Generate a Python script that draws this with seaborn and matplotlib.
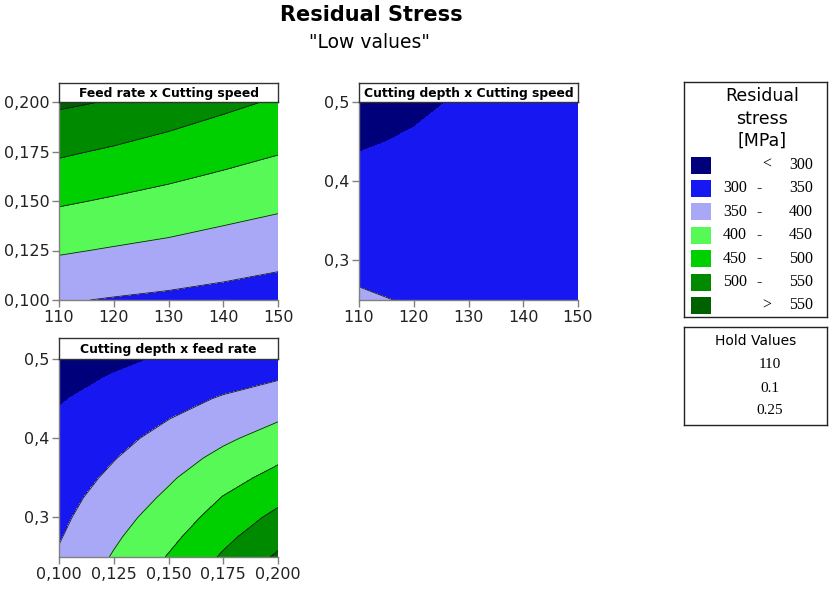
import numpy as np
import seaborn as sns
from matplotlib import pyplot as plt
from matplotlib.patches import Rectangle
from matplotlib.ticker import FuncFormatter

sns.set_style('ticks')
plt.rcParams['font.family'] = ['DejaVu Sans']
plt.rcParams['text.color'] = 'black'

# axis grids
speed = [110, 120, 130, 140, 150]
feed = [0.100, 0.125, 0.150, 0.175, 0.200]
depth = [0.25, 0.30, 0.35, 0.40, 0.45, 0.50]
depth_fine = [0.250, 0.275, 0.300, 0.325, 0.350, 0.375,
              0.400, 0.425, 0.450, 0.475, 0.500]

# residual stress [MPa], rows = y values, columns = x values
stress_feed_speed = [[354, 347, 341, 334, 326],
                     [405, 396, 388, 378, 368],
                     [456, 445, 434, 422, 411],
                     [507, 494, 481, 467, 453],
                     [558, 547, 528, 511, 495]]

stress_depth_speed = [[355, 347, 343, 341, 340],
                      [340, 336, 335, 335, 335],
                      [325, 325, 328, 329, 330],
                      [311, 315, 320, 323, 325],
                      [296, 304, 313, 316, 319],
                      [281, 293, 305, 310, 314]]

stress_depth_feed = [[355, 404, 453, 506, 557],
                     [347, 393, 438, 488, 535],
                     [340, 382, 423, 470, 512],
                     [333, 371, 408, 452, 488],
                     [326, 359, 394, 432, 465],
                     [318, 348, 379, 412, 442],
                     [311, 337, 364, 392, 419],
                     [304, 326, 349, 373, 396],
                     [297, 314, 334, 354, 372],
                     [289, 303, 319, 334, 348],
                     [282, 293, 304, 315, 325]]

levels = [300, 350, 400, 450, 500, 550]
band_colors = ['#00007a', '#1717f2', '#a8a8f7', '#57f957', '#00d000', '#008a00', '#006100']
hold_values = ['110', '0.1', '0.25']

W, H = 830, 589
fig = plt.figure(figsize=(W / 100, H / 100), dpi=100)


def px_axes(l, t, r, b):
    return fig.add_axes([l / W, 1 - b / H, (r - l) / W, (b - t) / H])


def fmt(nd):
    return FuncFormatter(lambda v, p: f'{v:.{nd}f}'.replace('.', ','))


pal = sns.color_palette(band_colors)
fill_levels = [0] + levels + [1000]


def panel(box, title_top, x, y, z, xticks, yticks, xnd, ynd, title):
    l, t, r, b = box
    ax = px_axes(l, t, r, b)
    ax.contourf(x, y, np.array(z), levels=fill_levels, colors=pal)
    ax.contour(x, y, np.array(z), levels=levels[1:], colors='#1a1a1a', linewidths=0.6)
    ax.set_xlim(x[0], x[-1])
    ax.set_ylim(y[0], y[-1])
    ax.set_xticks(xticks)
    ax.set_yticks(yticks)
    ax.xaxis.set_major_formatter(fmt(xnd))
    ax.yaxis.set_major_formatter(fmt(ynd))
    for s in ['top', 'right']:
        ax.spines[s].set_visible(False)
    for s in ['left', 'bottom']:
        ax.spines[s].set_color('#808080')
        ax.spines[s].set_linewidth(1)
    ax.tick_params(direction='out', length=5, width=1, color='#808080',
                   labelsize=11.5, labelcolor='#222222', pad=2)

    tb = px_axes(l, title_top, r, t)
    tb.set_xticks([])
    tb.set_yticks([])
    for s in tb.spines.values():
        s.set_color('#333333')
        s.set_linewidth(1)
    tb.text(0.5, 0.45, title, ha='center', va='center', fontsize=8.9,
            fontweight='bold', transform=tb.transAxes)
    return ax


panel((59, 102, 278, 300), 83, speed, feed, stress_feed_speed,
      speed, feed, 0, 3, 'Feed rate x Cutting speed')
panel((359, 102, 578, 300), 83, speed, depth, stress_depth_speed,
      speed, [0.3, 0.4, 0.5], 0, 1, 'Cutting depth x Cutting speed')
panel((59, 359, 278, 557), 338, feed, depth_fine, stress_depth_feed,
      feed, [0.3, 0.4, 0.5], 3, 1, 'Cutting depth x feed rate')

fig.text(371 / W, 1 - 15 / H, 'Residual Stress', ha='center', va='center',
         fontsize=15, fontweight='bold')
fig.text(369 / W, 1 - 43 / H, '"Low values"', ha='center', va='center', fontsize=13.5)

# legend box
lg = px_axes(684, 82, 827, 317)
lg.set_xlim(684, 827)
lg.set_ylim(317, 82)
lg.set_xticks([])
lg.set_yticks([])
for s in lg.spines.values():
    s.set_color('#222222')
    s.set_linewidth(1)
for i, line in enumerate(['Residual', 'stress', '[MPa]']):
    lg.text(762, 96 + i * 22.5, line, ha='center', va='center', fontsize=12.5)
serif = ['Liberation Serif', 'DejaVu Serif']
for i, c in enumerate(pal):
    yc = 165 + i * 23.4
    lg.add_patch(Rectangle((691, yc - 8.5), 20, 17, facecolor=c, edgecolor='none'))
    if i == 0:
        lg.text(767, yc, '<', ha='center', va='center', fontsize=11.5, family=serif)
        lg.text(813, yc, str(levels[0]), ha='right', va='center', fontsize=11.5, family=serif)
    elif i == len(pal) - 1:
        lg.text(767, yc, '>', ha='center', va='center', fontsize=11.5, family=serif)
        lg.text(813, yc, str(levels[-1]), ha='right', va='center', fontsize=11.5, family=serif)
    else:
        lg.text(723, yc, str(levels[i - 1]), ha='left', va='center', fontsize=11.5, family=serif)
        lg.text(759, yc, '-', ha='center', va='center', fontsize=11.5, family=serif)
        lg.text(813, yc, str(levels[i]), ha='right', va='center', fontsize=11.5, family=serif)

# hold values box
hb = px_axes(684, 327, 827, 425)
hb.set_xlim(684, 827)
hb.set_ylim(425, 327)
hb.set_xticks([])
hb.set_yticks([])
for s in hb.spines.values():
    s.set_color('#222222')
    s.set_linewidth(1)
hb.text(756, 341, 'Hold Values', ha='center', va='center', fontsize=10)
for i, v in enumerate(hold_values):
    hb.text(770, 365 + i * 23, v, ha='center', va='center', fontsize=11, family=serif)

fig.savefig('out.png', dpi=100)
